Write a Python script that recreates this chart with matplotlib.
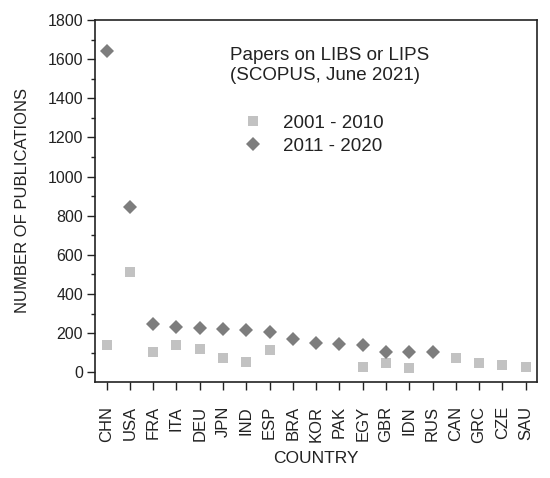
import numpy as np
import matplotlib
matplotlib.use("Agg")
import matplotlib.pyplot as plt
from matplotlib.ticker import MultipleLocator

plt.rcParams['font.family'] = ['Liberation Sans', 'DejaVu Sans']

countries = ["CHN", "USA", "FRA", "ITA", "DEU", "JPN", "IND", "ESP", "BRA", "KOR",
             "PAK", "EGY", "GBR", "IDN", "RUS", "CAN", "GRC", "CZE", "SAU"]
p2001_2010 = [141, 513, 104, 140, 119, 72, 53, 116, np.nan, np.nan,
              np.nan, 26, 46, 24, np.nan, 72, 46, 36, 27]
p2011_2020 = [1642, 845, 245, 232, 225, 220, 216, 208, 170, 152,
              145, 138, 106, 102, 102, np.nan, np.nan, np.nan, np.nan]
label_a = "2001 - 2010"
label_b = "2011 - 2020"
note = "Papers on LIBS or LIPS\n(SCOPUS, June 2021)"

fig = plt.figure(figsize=(5.5, 4.78), dpi=100)
ax = fig.add_axes([95/550, 1 - 381.7/478, 442.3/550, 361.7/478])

x = np.arange(len(countries))
ax.plot(x, p2001_2010, linestyle='none', marker='s', markersize=6.5,
        color='#c2c2c2', markeredgewidth=0, label=label_a)
ax.plot(x, p2011_2020, linestyle='none', marker='D', markersize=6.8,
        color='#7d7d7d', markeredgewidth=0, label=label_b)

ax.set_xlim(-0.5, len(countries) - 0.5)
ax.set_ylim(-48, 1800)
ax.set_xticks(x)
ax.set_xticklabels(countries, rotation=90, fontsize=12)
ax.yaxis.set_major_locator(MultipleLocator(200))
ax.yaxis.set_minor_locator(MultipleLocator(100))
ax.tick_params(axis='y', which='major', direction='out', length=5.5, width=1.0,
               labelsize=11.5, pad=3, color='#222222', labelcolor='#222222')
ax.tick_params(axis='y', which='minor', direction='out', length=3, width=1.0,
               color='#222222')
ax.tick_params(axis='x', which='major', direction='out', length=5.5, width=1.0,
               pad=12, color='#222222', labelcolor='#222222')
for s in ax.spines.values():
    s.set_linewidth(1.2)
    s.set_color('#222222')

ax.set_ylabel("NUMBER OF PUBLICATIONS", fontsize=12, color='#222222', labelpad=13)
ax.set_xlabel("COUNTRY", fontsize=12.5, color='#222222', labelpad=6)

ax.text(0.305, 0.874, note, transform=ax.transAxes, fontsize=13.5,
        ha='left', va='center', linespacing=1.2, color='#222222')

leg = ax.legend(loc='center left', bbox_to_anchor=(0.336, 0.683), frameon=False,
                fontsize=13.5, handlelength=1.0, handletextpad=1.1,
                labelspacing=0.3, borderpad=0, borderaxespad=0)
for t in leg.get_texts():
    t.set_color('#222222')

fig.savefig("out.png", dpi=100)
